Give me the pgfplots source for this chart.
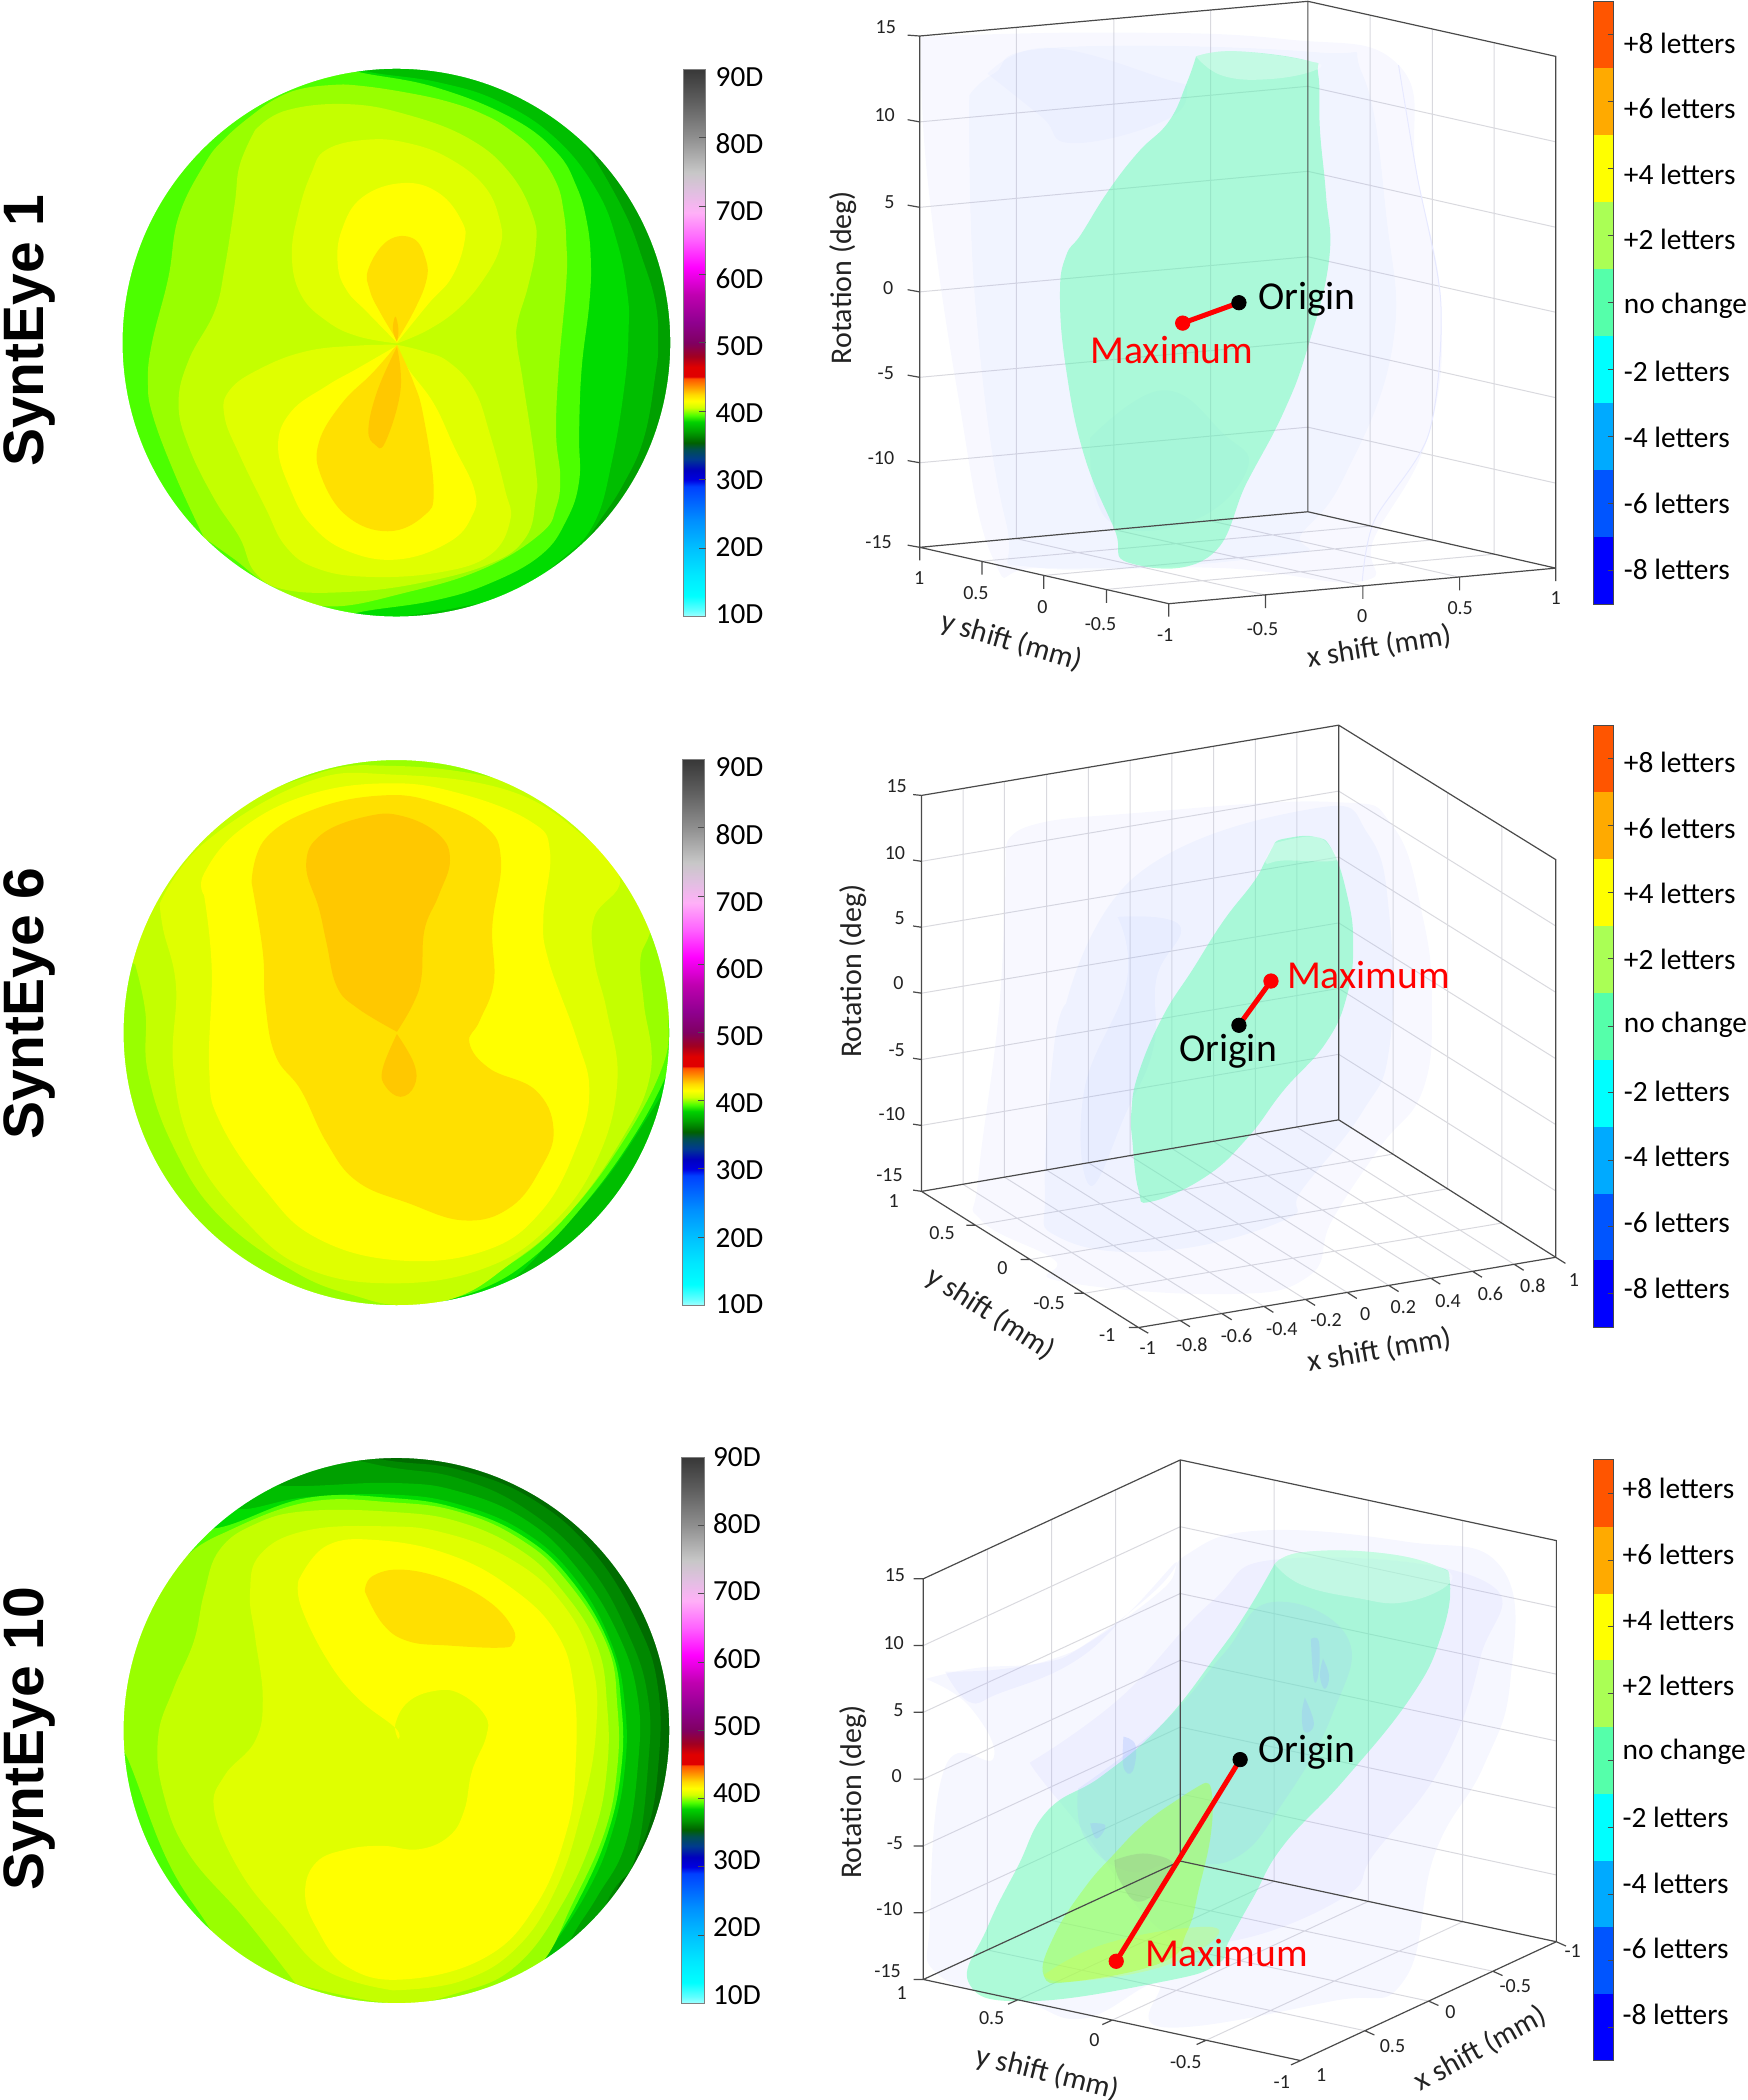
\documentclass[border=0pt]{standalone}
\usepackage{fontspec}
\setmainfont{Carlito}
\setsansfont{Liberation Sans}
\usepackage{pgfplots}
\pgfplotsset{compat=1.18}
\definecolor{gA}{HTML}{00A000}\definecolor{gB}{HTML}{00BE00}\definecolor{gC}{HTML}{00DC00}
\definecolor{gD}{HTML}{4CFF00}\definecolor{lE}{HTML}{99FF00}\definecolor{lF}{HTML}{C4FF00}
\definecolor{lG}{HTML}{E0FF00}\definecolor{yY}{HTML}{FFFF00}\definecolor{oA}{HTML}{FFE000}
\definecolor{oB}{HTML}{FFC800}\definecolor{gZ}{HTML}{006C00}\definecolor{gY}{HTML}{008800}
\definecolor{frameC}{HTML}{4A4A4A}\definecolor{gridC}{HTML}{D9D9DE}\definecolor{tickC}{HTML}{222222}
\definecolor{mint}{HTML}{55FFAA}\definecolor{pale}{HTML}{AFB4FF}\definecolor{bluepale}{HTML}{9DB8FF}
\definecolor{cbA}{HTML}{FF5500}\definecolor{cbB}{HTML}{FFAA00}\definecolor{cbC}{HTML}{FFFF00}
\definecolor{cbD}{HTML}{AAFF55}\definecolor{cbE}{HTML}{55FFAA}\definecolor{cbF}{HTML}{00FFFF}
\definecolor{cbG}{HTML}{00AAFF}\definecolor{cbH}{HTML}{0055FF}\definecolor{cbI}{HTML}{0000FF}
\pgfdeclareverticalshading{dbar}{100bp}{rgb(0bp)=(.63,1,1);rgb(25bp)=(.63,1,1);rgb(25.6bp)=(.38,1,1);rgb(26.9bp)=(0,1,1);rgb(28.8bp)=(0,.91,1);rgb(31.3bp)=(0,.75,1);rgb(33.8bp)=(0,.56,1);rgb(35.6bp)=(0,.38,1);rgb(36.9bp)=(0,.25,1);rgb(37.5bp)=(0,0,.88);rgb(38.4bp)=(0,0,.75);rgb(39.4bp)=(0,.23,.56);rgb(40.3bp)=(0,.31,.31);rgb(40.9bp)=(0,.38,0);rgb(41.9bp)=(0,.63,0);rgb(42.8bp)=(0,.82,0);rgb(43.4bp)=(.31,1,0);rgb(44.1bp)=(.82,1,0);rgb(44.7bp)=(1,1,0);rgb(45.3bp)=(1,.85,0);rgb(45.9bp)=(1,.63,0);rgb(46.8bp)=(1,.31,0);rgb(46.9bp)=(.88,0,0);rgb(47.8bp)=(.88,0,0);rgb(48.8bp)=(.63,0,.13);rgb(50bp)=(.5,0,.38);rgb(51.9bp)=(.56,0,.56);rgb(54.4bp)=(.75,0,.69);rgb(56.9bp)=(1,0,1);rgb(59.4bp)=(1,.38,1);rgb(61.9bp)=(1,.69,.97);rgb(63.8bp)=(.88,.75,.88);rgb(65.6bp)=(.78,.78,.78);rgb(68.8bp)=(.56,.56,.56);rgb(71.9bp)=(.38,.38,.38);rgb(75bp)=(.22,.22,.22);rgb(100bp)=(.22,.22,.22)}
\pgfplotsset{panel/.style={scale only axis,hide axis,clip=false,xmin=0,xmax=1568,ymin=0,ymax=1568,y dir=reverse,anchor=north west,unbounded coords=jump}}
\newcommand\band[2]{\addplot[fill=#1,draw=none,smooth,tension=.7] coordinates {#2};}
\newcommand\sheet[3]{\addplot[fill=#1,fill opacity=#2,draw=none,smooth,tension=.75] coordinates {#3};}
\newcommand\lines[2]{\addplot[#1] coordinates {#2};}
\newcommand\tk[3]{\node[text=tickC,font=\fontsize{10}{12}\selectfont,inner sep=0pt] at (axis cs:#1,#2) {#3};}
\newcommand\tit[5]{\node[rotate=#4,font=\fontsize{#5}{16}\selectfont,text=tickC,inner sep=0pt] at (axis cs:#1,#2) {#3};}
\newcommand\dlab[3]{\node[anchor=west,inner sep=0pt,font=\fontsize{14.6}{16}\selectfont] at (axis cs:#1,#2) {#3};}
\newcommand\rb[3]{\addplot[fill=#1,draw=none] coordinates {(1313,#2) (1346,#2) (1346,#3) (1313,#3)};}
\newcommand\llab[3]{\node[anchor=west,inner sep=0pt,font=\fontsize{14.7}{16}\selectfont] at (axis cs:#1,#2) {#3};}
\newcommand\biglab[5]{\node[anchor=#4,inner sep=0pt,text=#5,font=\fontsize{19.8}{22}\selectfont] at (axis cs:#1,#2) {#3};}
\newcommand\syn[3]{\node[rotate=90,anchor=base,inner sep=0pt,font=\sffamily\bfseries\fontsize{28.5}{30}\selectfont] at (axis cs:#1,#2) {#3};}
\newcommand\move[4]{%
 \addplot[red,line width=2.5pt] coordinates {(#1,#2) (#3,#4)};
 \addplot[only marks,mark=*,mark size=3.6pt,red,mark options={draw=red,fill=red}] coordinates {(#3,#4)};
 \addplot[only marks,mark=*,mark size=3.6pt,black,mark options={draw=black,fill=black}] coordinates {(#1,#2)};}
\begin{document}
\begin{tikzpicture}
\useasboundingbox (0,0) rectangle (874pt,-1050pt);
%%%%%%%%%%%%%%%%%%%%%%%% SyntEye 1 map
\begin{axis}[panel,at={(0pt,0pt)},width=400pt,height=340pt]
\band{gA}{(225,140) (1330,140) (1330,1440) (225,1440)}
\band{gB}{(225,140) (1100,140) (1090,255) (1140,320) (1220,480) (1260,600) (1285,700) (1290,790) (1285,860) (1262,1010) (1220,1120) (1170,1210) (1120,1300) (1050,1440) (225,1440)}
\band{gC}{(225,140) (680,140) (720,165) (860,190) (980,235) (1090,320) (1170,440) (1210,560) (1230,680) (1232,760) (1225,880) (1200,1060) (1165,1205) (1100,1290) (1000,1370) (900,1400) (770,1425) (680,1440) (225,1440)}
\band{gD}{(225,140) (660,140) (700,165) (850,200) (1000,270) (1090,350) (1130,430) (1150,510) (1158,600) (1155,700) (1140,850) (1135,1000) (1135,1110) (1110,1200) (1060,1280) (960,1345) (850,1385) (700,1413) (660,1440) (225,1440)}
\band{lE}{(400,1240) (345,1100) (300,960) (290,880) (298,790) (330,640) (350,500) (400,380) (440,320) (500,260) (545,225) (590,205) (650,196) (700,197) (790,212) (880,235) (950,265) (1000,300) (1050,350) (1090,420) (1105,490) (1110,560) (1110,650) (1095,850) (1090,1000) (1098,1100) (1090,1170) (1060,1230) (950,1310) (800,1365) (640,1398) (530,1350) (460,1290) (400,1240)}
\band{lF}{(500,300) (560,255) (680,240) (800,265) (920,320) (1000,400) (1045,500) (1050,570) (1035,660) (1015,740) (1013,790) (1025,880) (1050,1080) (1050,1150) (1030,1240) (960,1300) (820,1345) (680,1365) (560,1360) (500,1320) (470,1240) (420,1150) (370,1030) (350,930) (370,830) (420,720) (440,620) (460,470) (470,380) (500,300)}
\band{lG}{(778,792) (700,775) (640,740) (590,680) (572,590) (585,490) (610,400) (640,345) (720,322) (800,330) (880,365) (950,430) (980,510) (980,570) (950,640) (900,710) (840,760) (778,792)}
\band{lG}{(778,795) (700,797) (600,810) (510,850) (450,900) (440,960) (470,1050) (520,1170) (560,1260) (620,1310) (720,1330) (860,1320) (960,1280) (1000,1200) (990,1130) (960,1000) (930,900) (880,835) (830,810) (778,795)}
\band{yY}{(778,790) (720,720) (680,670) (662,610) (670,530) (710,455) (790,422) (860,445) (905,510) (910,560) (885,640) (840,700) (778,790)}
\band{yY}{(778,797) (800,850) (850,930) (890,1030) (930,1130) (925,1190) (880,1250) (780,1290) (680,1270) (610,1210) (570,1130) (545,1030) (570,950) (640,890) (700,850) (778,797)}
\band{oA}{(778,785) (745,720) (725,670) (722,620) (760,555) (810,550) (835,600) (835,650) (810,720) (778,785)}
\band{oA}{(778,795) (810,880) (830,960) (850,1130) (830,1190) (760,1225) (680,1190) (630,1100) (625,1020) (670,930) (730,860) (778,795)}
\band{oB}{(778,800) (785,900) (755,1020) (735,1025) (722,990) (740,900) (778,800)}
\band{oB}{(778,788) (770,760) (775,730) (781,760) (778,788)}
\draw[white,line width=70pt] (axis cs:777,790) ellipse [x radius=674,y radius=793];
\shade[shading=dbar,draw=gray] (axis cs:1340,160) rectangle (axis cs:1383,1422);
\lines{black!70,line width=.5pt}{(1371,317) (1383,317) (nan,nan) (1371,475) (1383,475) (nan,nan) (1371,632) (1383,632) (nan,nan) (1371,790) (1383,790) (nan,nan) (1371,948) (1383,948) (nan,nan) (1371,1106) (1383,1106) (nan,nan) (1371,1264) (1383,1264)}
\dlab{1402}{178}{90D}\dlab{1402}{332}{80D}\dlab{1402}{487}{70D}\dlab{1402}{642}{60D}\dlab{1402}{797}{50D}\dlab{1402}{952}{40D}\dlab{1402}{1107}{30D}\dlab{1402}{1262}{20D}\dlab{1402}{1417}{10D}
\syn{85}{762}{SyntEye 1}
\end{axis}
%%%%%%%%%%%%%%%%%%%%%%%% SyntEye 6 map
\begin{axis}[panel,at={(0pt,-350pt)},width=400pt,height=340pt]
\band{gB}{(225,120) (1330,120) (1330,1420) (225,1420)}
\band{gC}{(225,120) (1330,120) (1335,800) (1310,880) (1270,960) (1190,1100) (1100,1220) (1000,1340) (900,1400) (700,1420) (225,1420)}
\band{gD}{(225,120) (1330,120) (1335,760) (1308,860) (1240,1010) (1140,1170) (1040,1290) (940,1360) (830,1392) (700,1420) (225,1420)}
\band{lE}{(225,120) (1330,120) (1330,600) (1312,720) (1300,840) (1220,1020) (1110,1190) (1000,1300) (880,1365) (780,1398) (700,1420) (225,1420)}
\band{lF}{(265,610) (285,720) (290,860) (340,1030) (430,1190) (580,1320) (700,1375) (790,1395) (900,1375) (1000,1300) (1110,1190) (1215,1020) (1275,860) (1262,700) (1255,600) (1273,540) (1300,440) (1260,330) (1050,220) (950,175) (770,152) (620,170) (400,290) (225,500) (265,610)}
\band{lG}{(313,470) (320,530) (345,660) (340,850) (380,1040) (480,1200) (600,1310) (770,1345) (950,1310) (1080,1210) (1170,1060) (1210,880) (1190,720) (1165,600) (1165,500) (1215,415) (1150,320) (1000,210) (770,172) (600,190) (400,330) (313,470)}
\band{yY}{(400,450) (415,620) (410,850) (430,970) (520,1130) (620,1240) (780,1292) (950,1270) (1060,1180) (1130,1030) (1155,900) (1130,780) (1075,600) (1065,500) (1078,350) (1040,280) (900,215) (760,192) (600,220) (470,300) (400,400) (400,450)}
\band{oA}{(493,420) (515,580) (520,700) (540,820) (590,900) (640,1020) (700,1110) (800,1160) (910,1200) (1000,1170) (1060,1080) (1085,990) (1050,900) (960,850) (920,790) (940,740) (968,650) (965,520) (982,370) (950,290) (850,235) (750,220) (620,250) (520,320) (493,420)}
\band{oB}{(778,765) (700,710) (660,660) (640,560) (625,480) (600,380) (630,310) (720,268) (790,268) (860,310) (882,370) (860,450) (832,530) (826,640) (810,700) (778,765)}
\band{oB}{(778,770) (750,850) (755,890) (785,915) (812,890) (812,840) (778,770)}
\draw[white,line width=70pt] (axis cs:777,767) ellipse [x radius=672,y radius=790];
\shade[shading=dbar,draw=gray] (axis cs:1337,138) rectangle (axis cs:1380,1396);
\lines{black!70,line width=.5pt}{(1368,295) (1380,295) (nan,nan) (1368,452) (1380,452) (nan,nan) (1368,610) (1380,610) (nan,nan) (1368,767) (1380,767) (nan,nan) (1368,924) (1380,924) (nan,nan) (1368,1081) (1380,1081) (nan,nan) (1368,1239) (1380,1239)}
\dlab{1402}{155}{90D}\dlab{1402}{310}{80D}\dlab{1402}{465}{70D}\dlab{1402}{620}{60D}\dlab{1402}{775}{50D}\dlab{1402}{930}{40D}\dlab{1402}{1085}{30D}\dlab{1402}{1240}{20D}\dlab{1402}{1392}{10D}
\syn{85}{700}{SyntEye 6}
\end{axis}
%%%%%%%%%%%%%%%%%%%%%%%% SyntEye 10 map
\begin{axis}[panel,at={(0pt,-710pt)},width=400pt,height=340pt]
\band{gZ}{(225,70) (1330,70) (1330,1370) (225,1370)}
\band{gY}{(225,70) (600,70) (770,95) (900,115) (1040,180) (1160,300) (1250,470) (1290,620) (1290,800) (1265,960) (1210,1080) (1120,1370) (225,1370)}
\band{gA}{(225,70) (600,80) (770,110) (900,135) (1030,205) (1150,330) (1230,490) (1270,640) (1270,800) (1245,1010) (1190,1110) (1100,1370) (225,1370)}
\band{gB}{(225,70) (500,100) (540,150) (770,145) (900,165) (1030,230) (1130,340) (1210,490) (1250,640) (1250,800) (1225,980) (1170,1100) (1115,1205) (1050,1370) (225,1370)}
\band{gC}{(225,120) (430,150) (465,205) (600,178) (770,172) (900,195) (1030,260) (1130,370) (1200,520) (1225,660) (1225,800) (1200,950) (1150,1090) (1060,1255) (1000,1370) (225,1370)}
\band{gD}{(225,120) (330,220) (420,250) (600,180) (770,180) (900,205) (1025,268) (1120,370) (1195,520) (1218,660) (1218,800) (1192,950) (1135,1105) (1060,1255) (1000,1370) (225,1370)}
\band{lE}{(370,310) (430,265) (600,190) (770,190) (900,212) (1020,275) (1110,370) (1190,520) (1210,660) (1210,800) (1185,950) (1120,1120) (1060,1255) (950,1370) (500,1370) (420,1190) (330,1020) (250,780) (210,700) (225,400) (370,310)}
\band{lF}{(580,1300) (480,1150) (370,1000) (320,860) (310,730) (340,620) (380,510) (400,400) (430,300) (500,240) (600,210) (770,212) (900,235) (1020,300) (1100,390) (1170,520) (1190,660) (1190,800) (1165,950) (1100,1120) (1010,1260) (900,1320) (770,1345) (580,1300)}
\band{lG}{(770,1315) (900,1295) (1010,1220) (1090,1080) (1140,900) (1168,720) (1160,560) (1100,420) (1000,320) (870,260) (750,245) (600,255) (510,310) (490,400) (500,500) (515,640) (500,740) (440,820) (420,900) (470,1040) (550,1160) (640,1270) (770,1315)}
\band{yY}{(585,370) (640,290) (740,277) (880,310) (1000,385) (1090,490) (1125,620) (1128,800) (1110,950) (1050,1120) (950,1240) (790,1290) (680,1260) (620,1170) (598,1090) (620,1020) (680,990) (750,982) (820,990) (880,960) (910,900) (925,810) (953,730) (950,680) (900,630) (850,625) (800,650) (775,700) (780,735) (775,710) (700,640) (640,550) (590,430) (585,370)}
\band{oA}{(715,395) (730,360) (790,345) (880,370) (960,420) (1005,480) (1005,515) (980,525) (880,520) (800,510) (750,470) (715,395)}
\draw[white,line width=70pt] (axis cs:777,716) ellipse [x radius=672,y radius=790];
\shade[shading=dbar,draw=gray] (axis cs:1336,87) rectangle (axis cs:1380,1345);
\lines{black!70,line width=.5pt}{(1368,244) (1380,244) (nan,nan) (1368,401) (1380,401) (nan,nan) (1368,559) (1380,559) (nan,nan) (1368,716) (1380,716) (nan,nan) (1368,873) (1380,873) (nan,nan) (1368,1030) (1380,1030) (nan,nan) (1368,1188) (1380,1188)}
\dlab{1397}{85}{90D}\dlab{1397}{240}{80D}\dlab{1397}{395}{70D}\dlab{1397}{550}{60D}\dlab{1397}{705}{50D}\dlab{1397}{860}{40D}\dlab{1397}{1015}{30D}\dlab{1397}{1170}{20D}\dlab{1397}{1325}{10D}
\syn{85}{735}{SyntEye 10}
\end{axis}
%%%%%%%%%%%%%%%%%%%%%%%% SyntEye 1 surface
\begin{axis}[panel,at={(400pt,0pt)},width=474pt,height=340pt]
\lines{gridC,line width=.5pt}{(198,281) (840,199) (1250,327) (nan,nan) (198,478) (840,395) (1250,524) (nan,nan) (198,673) (840,592) (1250,720) (nan,nan) (198,870) (840,788) (1250,917) (nan,nan) (198,1067) (840,985) (1250,1114) (nan,nan) (358,63) (358,1242) (nan,nan) (519,43) (519,1221) (nan,nan) (679,23) (679,1201) (nan,nan) (943,35) (943,1213) (nan,nan) (1046,67) (1046,1245) (nan,nan) (1148,98) (1148,1278) (nan,nan) (770,1372) (358,1242) (nan,nan) (931,1351) (519,1221) (nan,nan) (1091,1331) (679,1201) (nan,nan) (301,1294) (943,1213) (nan,nan) (403,1327) (1046,1245) (nan,nan) (507,1359) (1148,1278)}
\sheet{pale}{.09}{(200,85) (500,75) (800,90) (990,150) (1020,400) (1060,700) (1040,1000) (950,1240) (930,1340) (700,1310) (400,1310) (320,1290) (260,900) (210,400) (200,85)}
\sheet{bluepale}{.07}{(280,220) (320,170) (420,110) (850,120) (930,170) (970,500) (980,800) (900,1100) (830,1230) (800,1280) (400,1310) (340,1200) (290,700) (280,220)}
\sheet{bluepale}{.06}{(310,170) (410,110) (600,180) (640,210) (600,280) (450,330) (400,270) (310,170)}
\sheet{bluepale}{.08}{(480,1010) (600,900) (700,1000) (740,1080) (650,1200) (510,1200) (480,1010)}
\sheet{mint}{.45}{(655,130) (720,118) (840,140) (857,170) (860,300) (870,450) (875,600) (840,800) (800,950) (740,1110) (675,1285) (545,1298) (520,1220) (470,1050) (440,850) (430,680) (440,590) (465,540) (510,440) (560,350) (610,280) (640,190) (655,130)}
\sheet{white}{.3}{(655,130) (720,118) (840,140) (855,160) (780,182) (700,175) (655,130)}
\lines{pale!30,line width=.5pt,smooth}{(990,150) (1020,400) (1060,700) (1040,1000) (950,1200) (930,1340)}
\lines{frameC,line width=.6pt}{(198,83) (198,1262) (nan,nan) (198,83) (840,3) (1250,130) (1250,1310) (nan,nan) (840,3) (840,1180) (nan,nan) (198,1262) (840,1180) (1250,1310) (nan,nan) (198,1262) (610,1392) (1250,1310) (nan,nan) (610,1392) (610,1422) (nan,nan) (770,1372) (770,1402) (nan,nan) (931,1351) (931,1381) (nan,nan) (1091,1331) (1091,1361) (nan,nan) (1250,1310) (1250,1340) (nan,nan) (198,1262) (198,1292) (nan,nan) (301,1294) (301,1325) (nan,nan) (403,1327) (403,1358) (nan,nan) (507,1359) (507,1390) (nan,nan) (178,81) (198,83) (nan,nan) (178,276) (198,281) (nan,nan) (178,473) (198,478) (nan,nan) (178,668) (198,673) (nan,nan) (178,865) (198,870) (nan,nan) (178,1062) (198,1067) (nan,nan) (178,1257) (198,1262)}
\tk{142}{63}{15}\tk{140}{265}{10}\tk{148}{467}{5}\tk{146}{665}{0}\tk{142}{860}{-5}\tk{134}{1057}{-10}\tk{130}{1250}{-15}
\tk{197}{1333}{1}\tk{291}{1367}{0.5}\tk{401}{1400}{0}\tk{497}{1438}{-0.5}\tk{604}{1465}{-1}
\tk{765}{1450}{-0.5}\tk{930}{1420}{0}\tk{1092}{1403}{0.5}\tk{1250}{1380}{1}
\tit{72}{640}{Rotation (deg)}{90}{15}
\tit{350}{1480}{y shift (mm)}{-16}{15}
\tit{958}{1492}{x shift (mm)}{9}{15}
\move{726}{698}{633}{745}
\biglab{757}{690}{Origin}{west}{black}
\biglab{615}{808}{Maximum}{center}{red}
\rb{cbA}{3}{157}\rb{cbB}{157}{312}\rb{cbC}{312}{466}\rb{cbD}{466}{621}\rb{cbE}{621}{775}\rb{cbF}{775}{930}\rb{cbG}{930}{1084}\rb{cbH}{1084}{1239}\rb{cbI}{1239}{1393}
\lines{frameC,line width=.5pt}{(1312,3) (1346,3) (1346,1393) (1312,1393) (1312,3) (nan,nan) (1336,80) (1346,80) (nan,nan) (1336,234) (1346,234) (nan,nan) (1336,389) (1346,389) (nan,nan) (1336,543) (1346,543) (nan,nan) (1336,698) (1346,698) (nan,nan) (1336,852) (1346,852) (nan,nan) (1336,1007) (1346,1007) (nan,nan) (1336,1161) (1346,1161) (nan,nan) (1336,1316) (1346,1316)}
\llab{1362}{100}{+8 letters}\llab{1362}{250}{+6 letters}\llab{1362}{402}{+4 letters}\llab{1362}{553}{+2 letters}\llab{1362}{705}{no change}\llab{1362}{857}{-2 letters}\llab{1362}{1008}{-4 letters}\llab{1362}{1160}{-6 letters}\llab{1362}{1312}{-8 letters}
\end{axis}
%%%%%%%%%%%%%%%%%%%%%%%% SyntEye 6 surface
\begin{axis}[panel,at={(400pt,-350pt)},width=474pt,height=340pt]
\lines{gridC,line width=.5pt}{(201,372) (891,210) (1250,521) (nan,nan) (201,524) (891,362) (1250,674) (nan,nan) (201,676) (891,514) (1250,827) (nan,nan) (201,829) (891,665) (1250,979) (nan,nan) (201,981) (891,817) (1250,1132) (nan,nan) (270,204) (270,1117) (nan,nan) (338,188) (338,1100) (nan,nan) (408,171) (408,1084) (nan,nan) (477,155) (477,1067) (nan,nan) (546,139) (546,1051) (nan,nan) (615,123) (615,1034) (nan,nan) (684,107) (684,1018) (nan,nan) (753,91) (753,1001) (nan,nan) (822,74) (822,985) (nan,nan) (981,136) (981,1047) (nan,nan) (1071,213) (1071,1127) (nan,nan) (1161,291) (1161,1206) (nan,nan) (270,1117) (629,1431) (nan,nan) (338,1100) (698,1415) (nan,nan) (408,1084) (767,1398) (nan,nan) (477,1067) (836,1382) (nan,nan) (546,1051) (905,1366) (nan,nan) (615,1034) (974,1350) (nan,nan) (684,1018) (1043,1333) (nan,nan) (753,1001) (1112,1317) (nan,nan) (822,985) (1181,1301) (nan,nan) (291,1211) (981,1047) (nan,nan) (381,1290) (1071,1127) (nan,nan) (470,1368) (1161,1206)}
\sheet{pale}{.09}{(340,350) (380,290) (560,260) (880,235) (980,290) (1030,500) (1045,700) (1030,900) (960,1030) (880,1200) (840,1330) (700,1370) (430,1340) (420,1290) (300,1200) (295,1100) (330,700) (340,350)}
\sheet{bluepale}{.09}{(440,700) (560,400) (850,250) (940,310) (975,500) (975,800) (930,950) (830,1130) (800,1200) (600,1270) (430,1240) (405,1130) (420,800) (440,700)}
\sheet{bluepale}{.09}{(525,500) (628,520) (590,640) (585,800) (540,950) (480,1120) (470,900) (540,650) (525,500)}
\sheet{mint}{.45}{(785,330) (800,320) (850,315) (880,345) (905,450) (915,560) (905,680) (870,790) (800,900) (740,1010) (670,1100) (580,1157) (560,1130) (550,1020) (548,950) (560,860) (600,730) (650,620) (700,510) (750,420) (770,370) (785,330)}
\sheet{white}{.3}{(785,330) (850,315) (880,345) (885,370) (800,370) (770,375) (785,330)}
\lines{frameC,line width=.6pt}{(201,220) (201,1133) (nan,nan) (201,220) (891,58) (1250,368) (1250,1285) (nan,nan) (891,58) (891,968) (nan,nan) (201,1133) (891,968) (1250,1285) (nan,nan) (201,1133) (560,1447) (1250,1285) (nan,nan) (187,218) (201,220) (nan,nan) (187,369) (201,372) (nan,nan) (187,521) (201,524) (nan,nan) (187,673) (201,676) (nan,nan) (187,826) (201,829) (nan,nan) (187,978) (201,981) (nan,nan) (187,1130) (201,1133) (nan,nan) (275,1211) (291,1211) (nan,nan) (365,1290) (381,1290) (nan,nan) (454,1368) (470,1368) (nan,nan) (544,1447) (560,1447) (nan,nan) (560,1447) (576,1460) (nan,nan) (629,1431) (645,1445) (nan,nan) (698,1415) (714,1429) (nan,nan) (767,1398) (783,1412) (nan,nan) (836,1382) (852,1396) (nan,nan) (905,1366) (921,1380) (nan,nan) (974,1350) (990,1364) (nan,nan) (1043,1333) (1059,1347) (nan,nan) (1112,1317) (1128,1331) (nan,nan) (1181,1301) (1197,1315) (nan,nan) (1250,1285) (1266,1299)}
\tk{160}{198}{15}\tk{157}{352}{10}\tk{165}{502}{5}\tk{163}{652}{0}\tk{160}{808}{-5}\tk{152}{955}{-10}\tk{148}{1095}{-15}
\tk{155}{1155}{1}\tk{235}{1230}{0.5}\tk{335}{1310}{0}\tk{412}{1390}{-0.5}\tk{508}{1465}{-1}
\tk{575}{1495}{-1}\tk{648}{1487}{-0.8}\tk{722}{1467}{-0.6}\tk{797}{1450}{-0.4}\tk{870}{1430}{-0.2}\tk{935}{1415}{0}\tk{998}{1400}{0.2}\tk{1072}{1387}{0.4}\tk{1142}{1370}{0.6}\tk{1212}{1350}{0.8}\tk{1280}{1338}{1}
\tit{88}{625}{Rotation (deg)}{90}{15}
\tit{315}{1415}{y shift (mm)}{-33}{15}
\tit{958}{1500}{x shift (mm)}{10}{15}
\move{726}{750}{779}{648}
\biglab{805}{635}{Maximum}{west}{red}
\biglab{708}{810}{Origin}{center}{black}
\rb{cbA}{58}{212}\rb{cbB}{212}{366}\rb{cbC}{366}{520}\rb{cbD}{520}{675}\rb{cbE}{675}{829}\rb{cbF}{829}{984}\rb{cbG}{984}{1138}\rb{cbH}{1138}{1292}\rb{cbI}{1292}{1446}
\lines{frameC,line width=.5pt}{(1312,58) (1346,58) (1346,1446) (1312,1446) (1312,58) (nan,nan) (1336,135) (1346,135) (nan,nan) (1336,289) (1346,289) (nan,nan) (1336,443) (1346,443) (nan,nan) (1336,597) (1346,597) (nan,nan) (1336,752) (1346,752) (nan,nan) (1336,906) (1346,906) (nan,nan) (1336,1061) (1346,1061) (nan,nan) (1336,1215) (1346,1215) (nan,nan) (1336,1369) (1346,1369)}
\llab{1362}{143}{+8 letters}\llab{1362}{295}{+6 letters}\llab{1362}{447}{+4 letters}\llab{1362}{598}{+2 letters}\llab{1362}{750}{no change}\llab{1362}{902}{-2 letters}\llab{1362}{1053}{-4 letters}\llab{1362}{1204}{-6 letters}\llab{1362}{1356}{-8 letters}
\end{axis}
%%%%%%%%%%%%%%%%%%%%%%%% SyntEye 10 surface
\begin{axis}[panel,at={(400pt,-710pt)},width=474pt,height=340pt]
\lines{gridC,line width=.5pt}{(204,520) (629,246) (1251,432) (nan,nan) (204,674) (629,400) (1251,586) (nan,nan) (204,828) (629,554) (1251,740) (nan,nan) (204,982) (629,708) (1251,895) (nan,nan) (204,1136) (629,862) (1251,1049) (nan,nan) (310,298) (310,1222) (nan,nan) (416,229) (416,1154) (nan,nan) (522,161) (522,1085) (nan,nan) (784,138) (784,1064) (nan,nan) (940,185) (940,1110) (nan,nan) (1096,232) (1096,1157) (nan,nan) (360,1337) (784,1064) (nan,nan) (516,1384) (940,1110) (nan,nan) (672,1430) (1096,1157) (nan,nan) (310,1222) (934,1408) (nan,nan) (416,1154) (1040,1340) (nan,nan) (522,1085) (1146,1271)}
\sheet{pale}{.11}{(208,597) (290,572) (400,560) (470,520) (600,390) (640,310) (760,255) (1000,280) (1160,340) (1175,600) (1130,800) (1050,1000) (1000,1290) (880,1340) (600,1400) (590,1300) (470,1380) (370,1340) (230,1280) (215,1150) (240,800) (320,780) (280,660) (208,597)}
\sheet{pale}{.11}{(380,790) (530,640) (680,420) (800,320) (1130,370) (1125,550) (1060,800) (950,1000) (900,1100) (720,1200) (600,1180) (470,950) (400,830) (380,790)}
\sheet{pale}{.12}{(240,580) (330,575) (420,550) (490,500) (590,390) (620,330) (540,450) (450,560) (330,630) (280,650) (240,580)}
\sheet{mint}{.45}{(785,332) (830,305) (950,305) (1050,335) (1075,375) (1060,500) (1010,640) (900,830) (800,980) (750,1100) (710,1200) (690,1255) (600,1295) (380,1340) (280,1300) (310,1170) (360,1030) (410,900) (500,820) (600,700) (690,540) (740,440) (785,332)}
\sheet{bluepale}{.16}{(460,850) (600,700) (700,540) (780,420) (905,500) (880,680) (800,880) (720,1010) (620,1020) (540,1040) (470,960) (460,850)}
\sheet{white}{.3}{(785,332) (830,305) (950,305) (1050,335) (1075,375) (1000,420) (920,410) (830,380) (785,332)}
\sheet{bluepale}{.3}{(845,505) (858,510) (858,580) (850,600) (845,505)}
\sheet{bluepale}{.3}{(865,550) (875,590) (868,620) (860,590) (865,550)}
\sheet{bluepale}{.3}{(835,640) (850,700) (835,720) (830,680) (835,640)}
\sheet{bluepale}{.3}{(535,730) (555,750) (550,810) (535,800) (535,730)}
\sheet{bluepale}{.3}{(480,930) (505,935) (490,965) (480,930)}
\sheet{cbD}{.55}{(665,840) (680,850) (680,950) (660,1080) (640,1180) (600,1250) (450,1295) (403,1280) (420,1190) (470,1080) (520,1000) (570,930) (630,870) (665,840)}
\sheet{gray}{.18}{(520,1015) (575,1000) (620,1035) (565,1110) (530,1065) (520,1015)}
\sheet{yY}{.18}{(403,1280) (500,1210) (650,1170) (690,1190) (600,1260) (450,1295) (403,1280)}
\lines{frameC,line width=.6pt}{(204,366) (204,1290) (nan,nan) (204,366) (629,92) (1251,278) (1251,1203) (nan,nan) (629,92) (629,1017) (nan,nan) (204,1290) (629,1017) (1251,1203) (nan,nan) (204,1290) (828,1477) (1251,1203) (nan,nan) (188,366) (204,366) (nan,nan) (188,520) (204,520) (nan,nan) (188,674) (204,674) (nan,nan) (188,828) (204,828) (nan,nan) (188,982) (204,982) (nan,nan) (188,1136) (204,1136) (nan,nan) (188,1290) (204,1290) (nan,nan) (344,1347) (360,1337) (nan,nan) (500,1394) (516,1384) (nan,nan) (656,1440) (672,1430) (nan,nan) (812,1487) (828,1477) (nan,nan) (934,1408) (950,1418) (nan,nan) (1040,1340) (1056,1350) (nan,nan) (1146,1271) (1162,1281) (nan,nan) (1251,1203) (1267,1213)}
\tk{157}{358}{15}\tk{155}{514}{10}\tk{163}{668}{5}\tk{160}{822}{0}\tk{157}{975}{-5}\tk{148}{1128}{-10}\tk{145}{1270}{-15}
\tk{168}{1322}{1}\tk{317}{1378}{0.5}\tk{487}{1430}{0}\tk{638}{1480}{-0.5}\tk{797}{1527}{-1}
\tk{862}{1510}{1}\tk{980}{1443}{0.5}\tk{1076}{1365}{0}\tk{1183}{1305}{-0.5}\tk{1278}{1225}{-1}
\tit{88}{858}{Rotation (deg)}{90}{15}
\tit{410}{1507}{y shift (mm)}{-14}{15}
\tit{1125}{1450}{x shift (mm)}{29}{15}
\move{728}{783}{523}{1248}
\biglab{757}{765}{Origin}{west}{black}
\biglab{570}{1230}{Maximum}{west}{red}
\rb{cbA}{92}{246}\rb{cbB}{246}{400}\rb{cbC}{400}{554}\rb{cbD}{554}{708}\rb{cbE}{708}{862}\rb{cbF}{862}{1016}\rb{cbG}{1016}{1170}\rb{cbH}{1170}{1324}\rb{cbI}{1324}{1477}
\lines{frameC,line width=.5pt}{(1312,92) (1346,92) (1346,1477) (1312,1477) (1312,92) (nan,nan) (1336,169) (1346,169) (nan,nan) (1336,323) (1346,323) (nan,nan) (1336,477) (1346,477) (nan,nan) (1336,631) (1346,631) (nan,nan) (1336,785) (1346,785) (nan,nan) (1336,939) (1346,939) (nan,nan) (1336,1093) (1346,1093) (nan,nan) (1336,1247) (1346,1247) (nan,nan) (1336,1400) (1346,1400)}
\llab{1360}{158}{+8 letters}\llab{1360}{310}{+6 letters}\llab{1360}{462}{+4 letters}\llab{1360}{612}{+2 letters}\llab{1360}{765}{no change}\llab{1360}{917}{-2 letters}\llab{1360}{1068}{-4 letters}\llab{1360}{1218}{-6 letters}\llab{1360}{1370}{-8 letters}
\end{axis}
\end{tikzpicture}
\end{document}
